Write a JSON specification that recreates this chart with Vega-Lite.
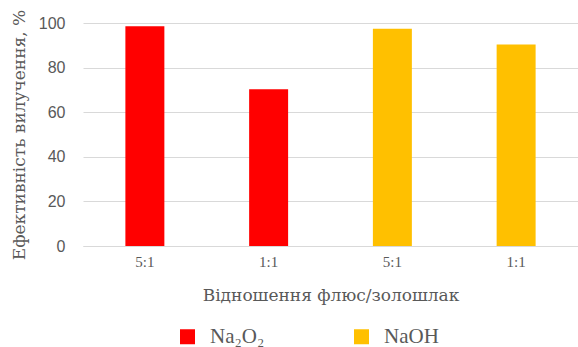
{
  "$schema": "https://vega.github.io/schema/vega-lite/v6.json",
  "width": 495,
  "height": 223,
  "autosize": {"type": "none"},
  "padding": {"left": 83, "top": 23, "right": 0, "bottom": 101},
  "background": "white",
  "data": {
    "values": [
      {"cat": "Na2O2 5:1", "flux": "Na₂O₂", "value": 98.5},
      {"cat": "Na2O2 1:1", "flux": "Na₂O₂", "value": 70.3},
      {"cat": "NaOH 5:1", "flux": "NaOH", "value": 97.4},
      {"cat": "NaOH 1:1", "flux": "NaOH", "value": 90.4}
    ]
  },
  "mark": {"type": "bar"},
  "encoding": {
    "x": {
      "field": "cat",
      "type": "nominal",
      "sort": null,
      "scale": {"paddingInner": 0.685, "paddingOuter": 0.3425},
      "axis": {
        "title": "Відношення флюс/золошлак",
        "labelExpr": "split(datum.label, ' ')[1]",
        "labelAngle": 0,
        "labelFont": "Liberation Serif",
        "labelFontSize": 15,
        "labelColor": "#595959",
        "labelPadding": 8,
        "ticks": false,
        "domain": true,
        "domainColor": "#d9d9d9",
        "titleFont": "DejaVu Serif",
        "titleFontSize": 17,
        "titleFontWeight": "normal",
        "titleColor": "#595959",
        "titlePadding": 18
      }
    },
    "y": {
      "field": "value",
      "type": "quantitative",
      "scale": {"domain": [0, 100]},
      "axis": {
        "title": "Ефективність вилучення, %",
        "values": [0, 20, 40, 60, 80, 100],
        "domain": false,
        "ticks": false,
        "grid": true,
        "gridColor": "#d9d9d9",
        "gridWidth": 1,
        "labelFont": "Liberation Sans",
        "labelFontSize": 16,
        "labelColor": "#595959",
        "labelPadding": 18,
        "titleFont": "DejaVu Serif",
        "titleFontSize": 17,
        "titleFontWeight": "normal",
        "titleColor": "#595959",
        "titlePadding": 10
      }
    },
    "color": {
      "field": "flux",
      "type": "nominal",
      "scale": {"domain": ["Na₂O₂", "NaOH"], "range": ["#ff0000", "#ffc000"]},
      "legend": {
        "title": null,
        "orient": "none",
        "legendX": 94,
        "legendY": 303,
        "direction": "horizontal",
        "columns": 2,
        "columnPadding": 86,
        "symbolType": "square",
        "symbolSize": 225,
        "symbolStrokeWidth": 0,
        "labelFont": "Liberation Serif",
        "labelFontSize": 21,
        "labelColor": "#595959",
        "labelOffset": 12
      }
    }
  },
  "config": {"view": {"stroke": null}}
}
